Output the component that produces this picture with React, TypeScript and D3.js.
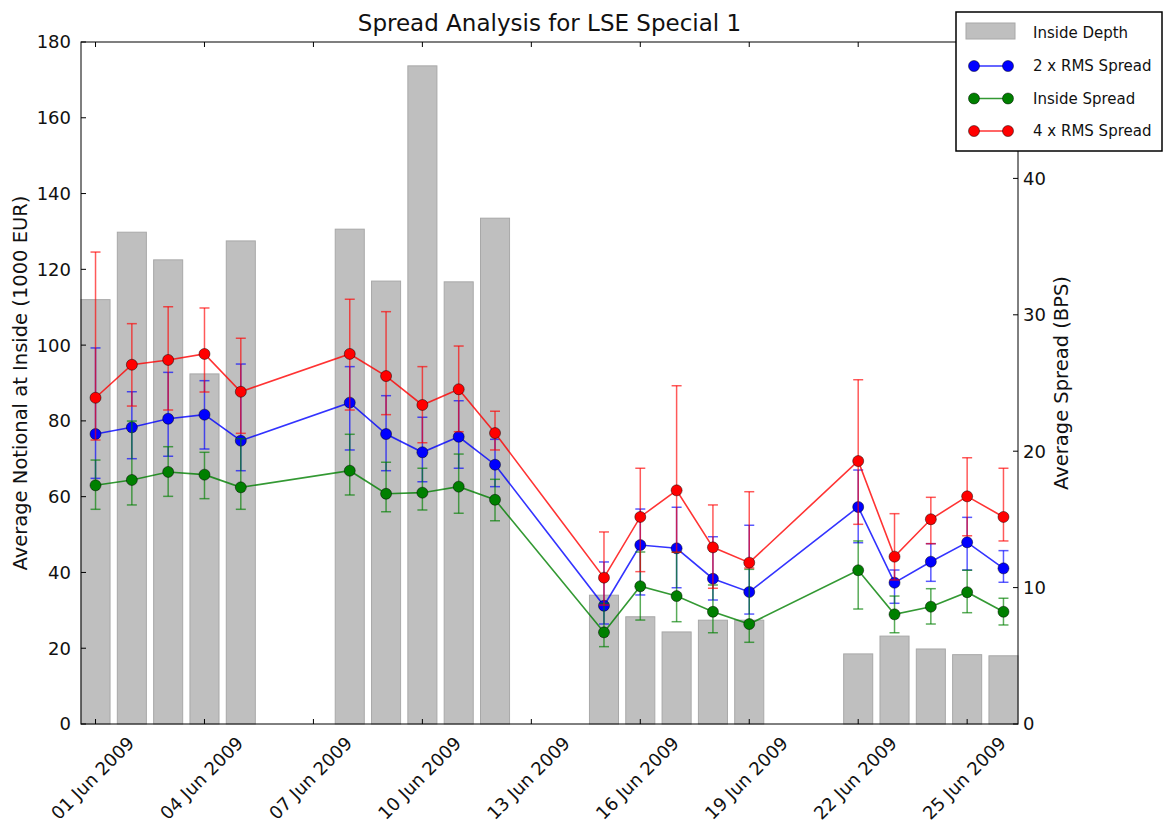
import React, { useEffect, useRef } from "react";
import * as d3 from "d3";

const dates = [
  "2009-06-01", "2009-06-02", "2009-06-03", "2009-06-04", "2009-06-05",
  "2009-06-08", "2009-06-09", "2009-06-10", "2009-06-11", "2009-06-12",
  "2009-06-15", "2009-06-16", "2009-06-17", "2009-06-18", "2009-06-19",
  "2009-06-22", "2009-06-23", "2009-06-24", "2009-06-25", "2009-06-26",
];

const tickDates = [
  "2009-06-01", "2009-06-04", "2009-06-07", "2009-06-10", "2009-06-13",
  "2009-06-16", "2009-06-19", "2009-06-22", "2009-06-25",
];
const tickLabels = [
  "01 Jun 2009", "04 Jun 2009", "07 Jun 2009", "10 Jun 2009", "13 Jun 2009",
  "16 Jun 2009", "19 Jun 2009", "22 Jun 2009", "25 Jun 2009",
];

// inside depth, 1000 EUR (left axis)
const insideDepth = [
  112, 129.8, 122.5, 92.4, 127.5,
  130.6, 116.9, 173.7, 116.7, 133.5,
  34, 28.3, 24.3, 27.4, 27.4,
  18.5, 23.2, 19.8, 18.3, 18.0,
];

// spreads in BPS (right axis): value, low, high
const rms2 = [21.26, 21.75, 22.38, 22.68, 20.77, 23.56, 21.26, 19.92, 21.06, 19.01, 8.67, 13.12, 12.88, 10.65, 9.68, 15.91, 10.36, 11.9, 13.32, 11.41];
const rms2Low = [18.01, 19.45, 19.63, 20.16, 18.57, 20.09, 18.57, 17.76, 18.75, 17.4, 7.33, 9.46, 9.99, 9.09, 8.06, 13.29, 8.85, 10.46, 11.29, 10.39];
const rms2High = [27.57, 24.36, 25.78, 25.17, 26.39, 26.2, 24.07, 22.49, 23.7, 20.87, 11.88, 15.76, 15.89, 13.73, 14.57, 18.62, 11.29, 13.22, 15.15, 12.71];

const insideSpread = [17.5, 17.89, 18.48, 18.28, 17.35, 18.57, 16.88, 16.96, 17.4, 16.44, 6.72, 10.1, 9.38, 8.23, 7.33, 11.27, 8.04, 8.6, 9.66, 8.23];
const insideLow = [15.74, 16.06, 16.69, 16.52, 15.74, 16.79, 15.56, 15.69, 15.45, 14.9, 5.67, 7.62, 7.5, 6.69, 5.99, 8.43, 6.69, 7.33, 8.16, 7.26];
const insideHigh = [19.35, 22.21, 20.33, 19.92, 20.92, 21.24, 19.19, 18.75, 19.79, 17.94, 8.85, 12.61, 12.59, 10.19, 11.34, 13.42, 9.38, 9.92, 11.27, 9.22];

const rms4 = [23.92, 26.34, 26.69, 27.13, 24.36, 27.13, 25.51, 23.39, 24.54, 21.33, 10.73, 15.18, 17.13, 12.95, 11.83, 19.28, 12.27, 15.01, 16.69, 15.18];
const rms4Low = [20.82, 23.31, 23.02, 24.34, 21.31, 23.02, 22.68, 20.62, 21.43, 20.09, 8.72, 11.17, 12.59, 9.95, 11.44, 14.64, 10.56, 13.22, 13.8, 13.42];
const rms4High = [34.6, 29.35, 30.59, 30.5, 28.28, 31.14, 30.23, 26.2, 27.71, 22.93, 14.08, 18.75, 24.8, 16.06, 17.03, 25.24, 15.42, 16.62, 19.52, 18.75];

const leftTicks = [0, 20, 40, 60, 80, 100, 120, 140, 160, 180];
const rightTicks = [0, 10, 20, 30, 40];

const series = [
  { name: "2 x RMS Spread", color: "#0000ff", v: rms2, lo: rms2Low, hi: rms2High },
  { name: "Inside Spread", color: "#008000", v: insideSpread, lo: insideLow, hi: insideHigh },
  { name: "4 x RMS Spread", color: "#ff0000", v: rms4, lo: rms4Low, hi: rms4High },
];

const W = 1166;
const H = 827;
const FONT = "DejaVu Sans, sans-serif";

export default function App() {
  const ref = useRef<SVGSVGElement>(null);

  useEffect(() => {
    const svg = d3.select(ref.current);
    svg.selectAll("*").remove();

    const parse = d3.utcParse("%Y-%m-%d");
    const day = 86400000;
    const pts = dates.map((d) => parse(d) as Date);

    const left = 81, right = 1018, top = 42, bottom = 724;
    const x = d3
      .scaleUtc()
      .domain([new Date(+pts[0] - 0.4 * day), new Date(+pts[pts.length - 1] + 0.4 * day)])
      .range([left, right]);
    const yL = d3.scaleLinear().domain([0, 180]).range([bottom, top]);
    const yR = d3.scaleLinear().domain([0, 50]).range([bottom, top]);

    // bars
    svg
      .append("g")
      .selectAll("rect")
      .data(insideDepth)
      .join("rect")
      .attr("x", (d, i) => x(new Date(+pts[i] - 0.4 * day)))
      .attr("width", (d, i) => x(new Date(+pts[i] + 0.4 * day)) - x(new Date(+pts[i] - 0.4 * day)))
      .attr("y", (d) => yL(d))
      .attr("height", (d) => bottom - yL(d))
      .attr("fill", "#bfbfbf")
      .attr("stroke", "#a8a8a8")
      .attr("stroke-width", 1);

    // series: error bars, line, markers
    series.forEach((s) => {
      const g = svg.append("g");
      const eb = g.append("g").attr("stroke", s.color).attr("stroke-opacity", 0.65).attr("stroke-width", 1.5);
      s.v.forEach((v, i) => {
        const cx = x(pts[i]);
        eb.append("line").attr("x1", cx).attr("x2", cx).attr("y1", yR(s.lo[i])).attr("y2", yR(s.hi[i]));
        eb.append("line").attr("x1", cx - 5).attr("x2", cx + 5).attr("y1", yR(s.lo[i])).attr("y2", yR(s.lo[i]));
        eb.append("line").attr("x1", cx - 5).attr("x2", cx + 5).attr("y1", yR(s.hi[i])).attr("y2", yR(s.hi[i]));
      });
      const line = d3
        .line<number>()
        .x((d, i) => x(pts[i]))
        .y((d) => yR(d));
      g.append("path")
        .attr("d", line(s.v))
        .attr("fill", "none")
        .attr("stroke", s.color)
        .attr("stroke-opacity", 0.8)
        .attr("stroke-width", 1.6);
      g.selectAll("circle")
        .data(s.v)
        .join("circle")
        .attr("cx", (d, i) => x(pts[i]))
        .attr("cy", (d) => yR(d))
        .attr("r", 5.5)
        .attr("fill", s.color)
        .attr("stroke", "#000")
        .attr("stroke-opacity", 0.6)
        .attr("stroke-width", 0.8);
    });

    // frame
    svg
      .append("rect")
      .attr("x", left)
      .attr("y", top)
      .attr("width", right - left)
      .attr("height", bottom - top)
      .attr("fill", "none")
      .attr("stroke", "#000")
      .attr("stroke-width", 1);

    const axes = svg.append("g").attr("font-family", FONT).attr("font-size", 18).attr("fill", "#111");

    // left ticks
    leftTicks.forEach((t) => {
      const y = yL(t);
      axes.append("line").attr("x1", left).attr("x2", left + 5).attr("y1", y).attr("y2", y).attr("stroke", "#000");
      axes.append("text").attr("x", left - 10).attr("y", y).attr("dy", "0.36em").attr("text-anchor", "end").text(String(t));
    });

    // right ticks
    rightTicks.forEach((t) => {
      const y = yR(t);
      axes.append("line").attr("x1", right - 5).attr("x2", right).attr("y1", y).attr("y2", y).attr("stroke", "#000");
      axes.append("text").attr("x", right + 5).attr("y", y).attr("dy", "0.36em").attr("text-anchor", "start").text(String(t));
    });

    // x ticks
    tickDates.forEach((d, i) => {
      const tx = x(parse(d) as Date);
      axes.append("line").attr("x1", tx).attr("x2", tx).attr("y1", bottom).attr("y2", bottom - 5).attr("stroke", "#000");
      axes.append("line").attr("x1", tx).attr("x2", tx).attr("y1", top).attr("y2", top + 5).attr("stroke", "#000");
      axes
        .append("text")
        .attr("transform", `translate(${tx - 3},${bottom + 54}) rotate(-45)`)
        .attr("text-anchor", "middle")
        .attr("dy", "0.36em")
        .text(tickLabels[i]);
    });

    // axis labels
    axes
      .append("text")
      .attr("font-size", 19.5)
      .attr("transform", `translate(20,${(top + bottom) / 2}) rotate(-90)`)
      .attr("text-anchor", "middle")
      .attr("dy", "0.36em")
      .text("Average Notional at Inside (1000 EUR)");
    axes
      .append("text")
      .attr("font-size", 19.5)
      .attr("transform", `translate(1061,${(top + bottom) / 2}) rotate(-90)`)
      .attr("text-anchor", "middle")
      .attr("dy", "0.36em")
      .text("Average Spread (BPS)");

    // title
    svg
      .append("text")
      .attr("x", (left + right) / 2)
      .attr("y", 31)
      .attr("text-anchor", "middle")
      .attr("font-family", FONT)
      .attr("font-size", 23)
      .attr("fill", "#111")
      .text("Spread Analysis for LSE Special 1");

    // legend
    const lg = svg.append("g").attr("font-family", FONT).attr("font-size", 15).attr("fill", "#111");
    lg.append("rect").attr("x", 956).attr("y", 12).attr("width", 206).attr("height", 139).attr("fill", "#fff").attr("stroke", "#000").attr("stroke-width", 1.5);
    lg.append("rect").attr("x", 966).attr("y", 23).attr("width", 49).attr("height", 16).attr("fill", "#bfbfbf").attr("stroke", "#a8a8a8");
    lg.append("text").attr("x", 1033).attr("y", 33).attr("dy", "0.36em").text("Inside Depth");
    series.forEach((s, i) => {
      const ly = 66 + i * 32.5;
      lg.append("line").attr("x1", 974).attr("x2", 1008).attr("y1", ly).attr("y2", ly).attr("stroke", s.color).attr("stroke-opacity", 0.8).attr("stroke-width", 1.6);
      [974, 1008].forEach((cx) =>
        lg.append("circle").attr("cx", cx).attr("cy", ly).attr("r", 5.5).attr("fill", s.color).attr("stroke", "#000").attr("stroke-opacity", 0.6).attr("stroke-width", 0.8)
      );
      lg.append("text").attr("x", 1033).attr("y", ly).attr("dy", "0.36em").text(s.name);
    });
  }, []);

  return (
    <svg
      ref={ref}
      width={W}
      height={H}
      style={{ position: "absolute", left: 0, top: 0, background: "#fff" }}
    />
  );
}
